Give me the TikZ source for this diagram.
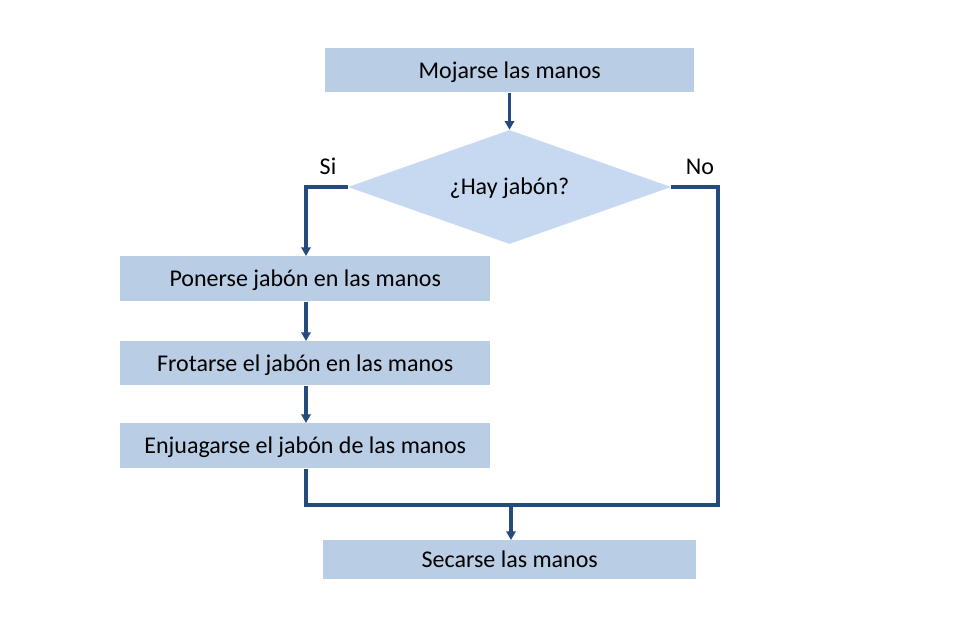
\documentclass[tikz,border=0pt]{standalone}
\usepackage{fontspec}
\setmainfont{Carlito}
\usetikzlibrary{shapes.geometric,arrows.meta}
\definecolor{boxfill}{HTML}{B9CDE5}
\definecolor{diafill}{HTML}{C6D9F1}
\definecolor{linec}{HTML}{254A7F}
\tikzset{
  txt/.style={font=\fontsize{18pt}{21pt}\selectfont, text height=12pt, text depth=0.4pt},
  stepbox/.style={txt, fill=boxfill, draw=none, anchor=north west, inner sep=0pt},
  conn/.style={draw=linec, line width=2.4pt},
  arr/.style={conn, -{Triangle[length=6.5pt,width=7pt]}},
  lbl/.style={txt, inner sep=0pt}
}
\begin{document}
\begin{tikzpicture}[x=0.75pt,y=-0.75pt]
\useasboundingbox (0,0) rectangle (972,628);
\node[stepbox, minimum width=369*0.75pt, minimum height=44*0.75pt] (moj) at (325,48) {Mojarse las manos};
\node[fill=diafill, diamond, draw=none, inner sep=0pt, minimum width=323*0.75pt, minimum height=114*0.75pt, aspect=2.83] (hay) at (509.5,187) {};
\node[lbl] at (509.5,187) {¿Hay jabón?};
\node[stepbox, minimum width=370*0.75pt, minimum height=45*0.75pt] (pon) at (120,256) {Ponerse jabón en las manos};
\node[stepbox, minimum width=370*0.75pt, minimum height=44*0.75pt] (fro) at (120,341) {Frotarse el jabón en las manos};
\node[stepbox, minimum width=370*0.75pt, minimum height=45*0.75pt] (enj) at (120,423) {Enjuagarse el jabón de las manos};
\node[stepbox, minimum width=373*0.75pt, minimum height=39*0.75pt] (sec) at (323,540) {Secarse las manos};
\coordinate (siC) at (306,187);
\coordinate (noC) at (718,187);
\coordinate (j1) at (306,505);
\coordinate (j2) at (718,505);
\coordinate (jm) at (511,505);
\node[lbl] (si) at (328,167) {Si};
\node[lbl] (no) at (700,167) {No};
\draw[arr] (moj.south -| hay.north) -- (hay.north);
\draw[arr] (hay.west) -- (siC) -- (pon.north -| siC);
\draw[arr] (pon.south -| siC) -- (fro.north -| siC);
\draw[arr] (fro.south -| siC) -- (enj.north -| siC);
\draw[conn] (enj.south -| j1) -- (j1) -- (j2) -- (noC) -- (hay.east);
\draw[arr] (jm) -- (sec.north -| jm);
\end{tikzpicture}
\end{document}
